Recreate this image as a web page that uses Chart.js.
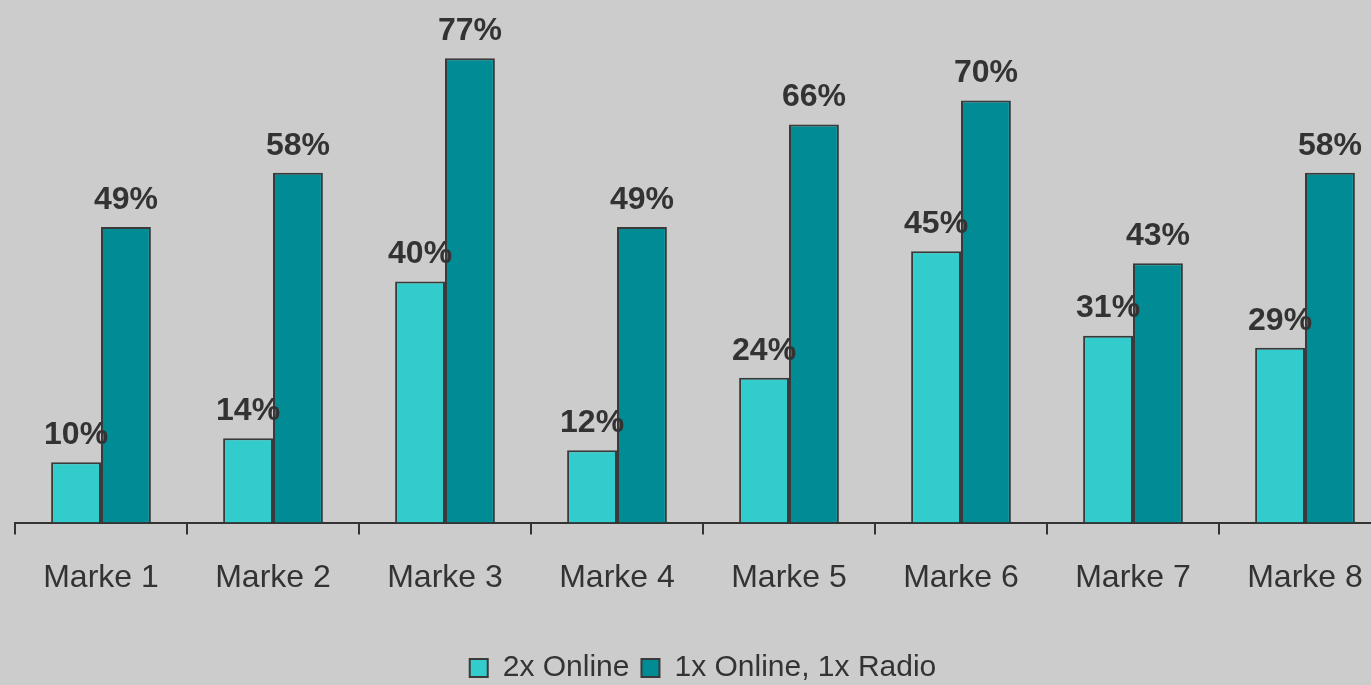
<!DOCTYPE html>
<html>
<head>
<meta charset="utf-8">
<script src="https://cdn.jsdelivr.net/npm/chart.js@4.4.0/dist/chart.umd.min.js"></script>
<style>
  html, body { margin: 0; padding: 0; background: #cccccc; overflow: hidden; }
  #wrap { width: 1420px; height: 685px; position: relative; }
</style>
</head>
<body>
<div id="wrap"><canvas id="chart"></canvas></div>
<script>
'use strict';
var categories = ['Marke 1', 'Marke 2', 'Marke 3', 'Marke 4', 'Marke 5', 'Marke 6', 'Marke 7', 'Marke 8'];
var twoOnline = [10, 14, 40, 12, 24, 45, 31, 29];
var onlineRadio = [49, 58, 77, 49, 66, 70, 43, 58];
var seriesNames = ['2x Online', '1x Online, 1x Radio'];

var FONT = '"Liberation Sans", Arial, sans-serif';
var INK = '#333333';

// draw the % labels above each bar, after all bars so they sit on top
var barLabels = {
  id: 'barLabels',
  afterDatasetsDraw: function(chart) {
    var ctx = chart.ctx;
    ctx.save();
    ctx.font = 'bold 32px ' + FONT;
    ctx.fillStyle = INK;
    ctx.textAlign = 'center';
    ctx.textBaseline = 'middle';
    chart.data.datasets.forEach(function(ds, i) {
      var meta = chart.getDatasetMeta(i);
      meta.data.forEach(function(bar, j) {
        ctx.fillText(ds.data[j] + '%', bar.x, bar.y - 27);
      });
    });
    ctx.restore();
  }
};

new Chart(document.getElementById('chart'), {
  type: 'bar',
  data: {
    labels: categories,
    datasets: [{
      label: seriesNames[0],
      data: twoOnline,
      backgroundColor: '#33cccc',
      borderColor: '#3a3a3a',
      borderWidth: 2,
      categoryPercentage: 0.58,
      barPercentage: 1.0
    }, {
      label: seriesNames[1],
      data: onlineRadio,
      backgroundColor: '#008b95',
      borderColor: '#3a3a3a',
      borderWidth: 2,
      categoryPercentage: 0.58,
      barPercentage: 1.0
    }]
  },
  options: {
    responsive: true,
    maintainAspectRatio: false,
    animation: false,
    layout: { padding: { left: 15, right: 29, top: 4, bottom: -8 } },
    plugins: {
      tooltip: { enabled: false },
      legend: {
        position: 'bottom',
        labels: {
          color: INK,
          font: { family: FONT, size: 30 },
          boxWidth: 18,
          boxHeight: 18,
          padding: 12
        }
      }
    },
    scales: {
      x: {
        grid: { display: true, drawOnChartArea: false, drawTicks: true, tickLength: 12, color: INK, lineWidth: 2, offset: true },
        border: { display: true, color: INK, width: 2 },
        ticks: { color: INK, font: { family: FONT, size: 32 }, padding: 24, maxRotation: 0 },
        afterFit: function(scale) { scale.height += 20; }
      },
      y: {
        display: false,
        min: 0,
        max: 86
      }
    }
  },
  plugins: [barLabels]
});
</script>
</body>
</html>
